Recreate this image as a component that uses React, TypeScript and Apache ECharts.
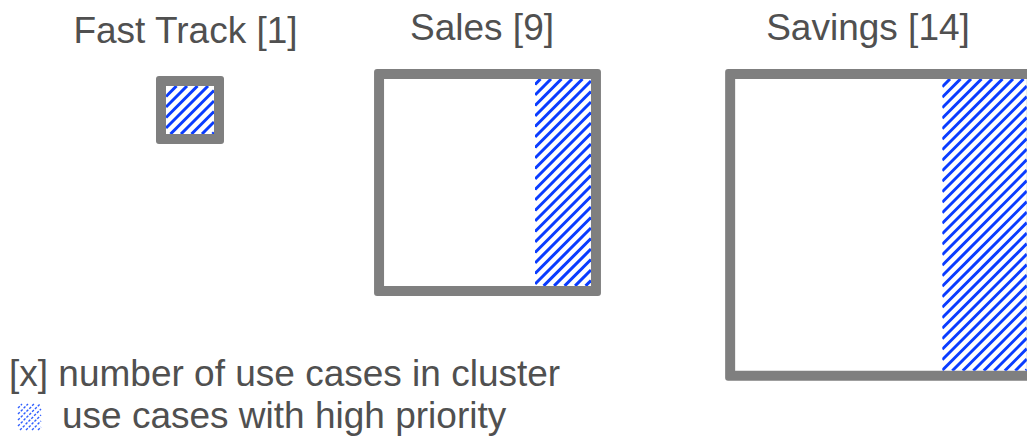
import React, { useEffect, useRef } from "react";
import * as echarts from "echarts";

// ---- data ----
const CLUSTERS = ["Fast Track", "Sales", "Savings"];
const USE_CASES = [1, 9, 14];
const HIGH_PRIORITY_SHARE = [1, 0.27, 0.29];
const LEGEND_LINES = ["[x] number of use cases in cluster", "use cases with high priority"];

// ---- layout / style ----
const BOX_CENTER_X = [190, 487.5, 881];
const BOX_TOP = [76, 69, 69];
const TITLE_X = [185.5, 482, 868];
const TITLE_Y = [30, 27, 27];
const BORDER = 10;
const GRAY = "#7f7f7f";
const BLUE = "#0a3cff";
const TEXT = "#505050";
const FONT = '37px "Liberation Sans", Arial, sans-serif';

// box side (px) as a function of the cluster size
const sideOf = (count: number) => 38.2 + 29.8 * Math.pow(count, 0.84);

function hatch(x0: number, y0: number, x1: number, y1: number, step: number) {
  const segs: number[][] = [];
  const start = Math.ceil((x0 + y0) / step) * step;
  for (let c = start; c <= x1 + y1; c += step) {
    const xa = Math.max(x0, c - y1);
    const xb = Math.min(x1, c - y0);
    if (xb > xa) segs.push([xa, c - xa, xb, c - xb]);
  }
  return segs;
}

export default function App() {
  const ref = useRef<HTMLDivElement>(null);
  useEffect(() => {
    document.body.style.margin = "0";
    const chart = echarts.init(ref.current!, undefined, { renderer: "svg" });
    const data = CLUSTERS.map((_, i) => [i, USE_CASES[i], HIGH_PRIORITY_SHARE[i]]);

    const legendIcon = hatch(18, 404, 41, 430, 6).map((s) => ({
      type: "line",
      shape: { x1: s[0], y1: s[1], x2: s[2], y2: s[3] },
      style: { stroke: "#2f5fff", lineWidth: 1.4, lineDash: [2.5, 1.5] },
      silent: true,
    }));

    chart.setOption({
      animation: false,
      tooltip: { show: false },
      series: [
        {
          type: "custom",
          coordinateSystem: "none",
          silent: true,
          data,
          renderItem: (params: any, api: any) => {
            const i = api.value(0);
            const count = api.value(1);
            const share = api.value(2);
            const side = sideOf(count);
            const x0 = BOX_CENTER_X[i] - side / 2;
            const y0 = BOX_TOP[i];
            const ix0 = x0 + BORDER;
            const iy0 = y0 + BORDER;
            const ix1 = x0 + side - BORDER;
            const iy1 = y0 + side - BORDER;
            const hx0 = ix1 - share * (ix1 - ix0);
            const lines = hatch(hx0, iy0, ix1, iy1, 10.5).map((s) => ({
              type: "line",
              shape: { x1: s[0], y1: s[1], x2: s[2], y2: s[3] },
              style: { stroke: BLUE, lineWidth: 3 },
            }));
            return {
              type: "group",
              children: [
                {
                  type: "rect",
                  shape: { x: x0, y: y0, width: side, height: side, r: 3 },
                  style: { fill: GRAY },
                },
                {
                  type: "rect",
                  shape: { x: ix0, y: iy0, width: ix1 - ix0, height: iy1 - iy0 },
                  style: { fill: "#ffffff" },
                },
                {
                  type: "group",
                  children: lines,
                  clipPath: {
                    type: "rect",
                    shape: { x: hx0, y: iy0, width: ix1 - hx0, height: iy1 - iy0 },
                  },
                },
                {
                  type: "text",
                  x: TITLE_X[i],
                  y: TITLE_Y[i],
                  style: {
                    text: `${CLUSTERS[i]} [${count}]`,
                    fill: TEXT,
                    font: FONT,
                    align: "center",
                    verticalAlign: "middle",
                  },
                },
              ],
            };
          },
        },
      ],
      graphic: [
        {
          type: "text",
          left: 9,
          top: 355,
          style: { text: LEGEND_LINES[0], fill: TEXT, font: FONT },
          silent: true,
        },
        { type: "group", children: legendIcon },
        {
          type: "text",
          left: 62,
          top: 397,
          style: { text: LEGEND_LINES[1], fill: TEXT, font: FONT },
          silent: true,
        },
      ],
    });
    return () => chart.dispose();
  }, []);
  return <div ref={ref} style={{ width: 1027, height: 436 }} />;
}
